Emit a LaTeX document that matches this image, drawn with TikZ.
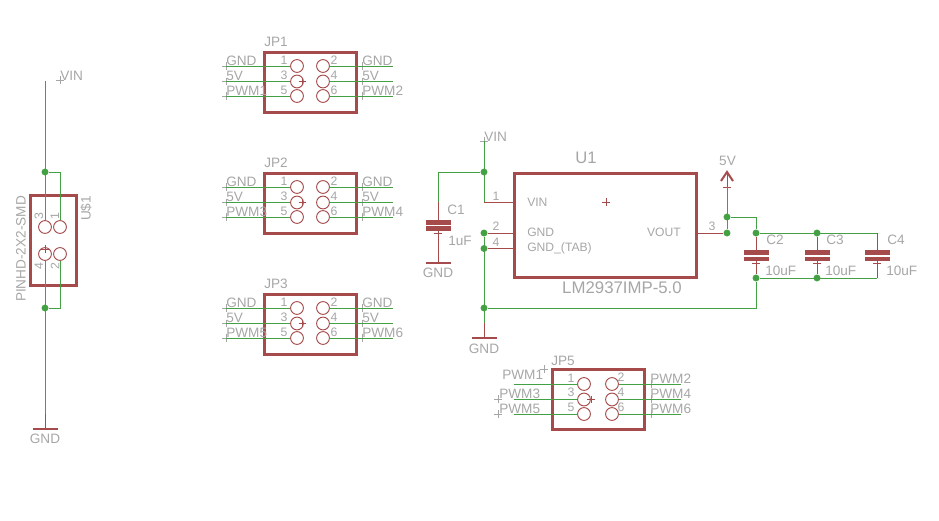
\documentclass[tikz,border=0pt]{standalone}
\usepackage{fontspec}
\usepackage{xcolor}
\usetikzlibrary{
    shapes,
    shapes.misc
}
\setmainfont{Liberation Sans}
\definecolor{netgreen}{HTML}{43A143}
\definecolor{partred}{HTML}{A54B4B}
\definecolor{txtgray}{HTML}{A6A6A6}
\tikzset{
    lbl/.style={text=txtgray, inner sep=0pt, anchor=west, font=\fontsize{10.2}{11}\selectfont},
    pinno/.style={lbl, anchor=center, font=\fontsize{9.2}{10}\selectfont},
    pinname/.style={lbl, font=\fontsize{9.1}{10}\selectfont},
    wire/.style={draw=netgreen, line width=0.7pt},
    stem/.style={draw=partred, line width=0.7pt},
    partbox/.style={draw=partred, line width=2.25pt, inner sep=0pt},
    pad/.style={draw=partred, circle, line width=0.7pt, inner sep=0pt, minimum size=9.6pt},
    junction/.style={fill=netgreen, circle, inner sep=0pt, minimum size=5.2pt},
    plate/.style={fill=partred, inner sep=0pt, minimum width=18.75pt, minimum height=3.4pt},
    gndbar/.style={fill=partred, inner sep=0pt, minimum width=18.75pt, minimum height=1.5pt},
    graycross/.style={draw=txtgray, cross out, rotate=45, line width=0.55pt, inner sep=0pt, minimum size=3.2pt},
    redcross/.style={draw=partred, cross out, rotate=45, line width=0.65pt, inner sep=0pt, minimum size=3.4pt}
}

\begin{document}
\begin{tikzpicture}[x=0.75pt, y=-0.75pt]
    \useasboundingbox (0,0) rectangle (939,521);

    % header U$1
    \node[partbox, minimum width=34.5pt, minimum height=68.2pt] (us1) at (53,240.5) {};
    \node[pad] (us1p3) at (45,227) {};
    \node[pad] (us1p1) at (60,227) {};
    \node[pad] (us1p4) at (45,254) {};
    \node[pad] (us1p2) at (60,254) {};
    \node[redcross] (us1o) at (45,249) {};
    \node[pinno, rotate=90] (us1n3) at (39,216) {3};
    \node[pinno, rotate=90] (us1n1) at (55,216) {1};
    \node[pinno, rotate=90] (us1n4) at (39,266) {4};
    \node[pinno, rotate=90] (us1n2) at (55,266) {2};
    \node[lbl, anchor=center, rotate=90] (us1val) at (21,249) {PINHD-2X2-SMD};
    \node[lbl, anchor=center, rotate=90] (us1name) at (86,208.5) {U\$1};

    \node[graycross] (vin1o) at (60,80) {};
    \node[lbl] (vin1) at (60,76) {VIN};
    \coordinate (vin1w) at (45,81);
    \node[junction] (us1top) at (45,172) {};
    \node[junction] (us1bot) at (45,308) {};
    \node[gndbar] (gnd1) at (45,429) {};
    \coordinate (gnd1w) at (45,414);
    \node[lbl, anchor=center] (gnd1t) at (45,439) {GND};

    \draw[wire] (vin1w)--(us1p3);
    \draw[wire] (us1top)-|(us1p1);
    \draw[wire] (us1p4)--(gnd1w);
    \draw[wire] (us1bot)-|(us1p2);
    \draw[stem] (gnd1w)--(gnd1);

    % header JP1
    \node[partbox, minimum width=69pt, minimum height=45pt] (jp1) at (310,82) {};
    \node[lbl] (jp1name) at (264,42) {JP1};
    \node[pad] (jp1p1) at (297,66) {};
    \node[pad] (jp1p3) at (297,81.5) {};
    \node[pad] (jp1p5) at (297,96) {};
    \node[pad] (jp1p2) at (323,66) {};
    \node[pad] (jp1p4) at (323,81.5) {};
    \node[pad] (jp1p6) at (323,96) {};
    \node[redcross] (jp1o) at (302.5,81.5) {};
    \node[pinno] (jp1n1) at (284,60) {1};
    \node[pinno] (jp1n3) at (284,75) {3};
    \node[pinno] (jp1n5) at (284,90) {5};
    \node[pinno] (jp1n2) at (334,60) {2};
    \node[pinno] (jp1n4) at (334,75) {4};
    \node[pinno] (jp1n6) at (334,90) {6};
    \node[graycross] (jp1a) at (226,66) {};
    \node[graycross] (jp1b) at (226,81.5) {};
    \node[graycross] (jp1c) at (226,96) {};
    \node[graycross] (jp1m2) at (362,66) {};
    \node[graycross] (jp1m4) at (362,81.5) {};
    \node[graycross] (jp1m6) at (362,96) {};
    \coordinate (jp1d) at (393,66);
    \coordinate (jp1e) at (393,81.5);
    \coordinate (jp1f) at (393,96);
    \node[lbl] at (226,61) {GND};
    \node[lbl] at (226,75.5) {5V};
    \node[lbl] at (226,90.5) {PWM1};
    \node[lbl] at (362,61) {GND};
    \node[lbl] at (362,75.5) {5V};
    \node[lbl] at (362,90.5) {PWM2};
    \draw[wire] (jp1a.center)--(jp1p1);
    \draw[wire] (jp1b.center)--(jp1p3);
    \draw[wire] (jp1c.center)--(jp1p5);
    \draw[wire] (jp1p2)--(jp1d);
    \draw[wire] (jp1p4)--(jp1e);
    \draw[wire] (jp1p6)--(jp1f);

    % header JP2
    \node[partbox, minimum width=69pt, minimum height=45pt] (jp2) at (310,203) {};
    \node[lbl] (jp2name) at (264,163) {JP2};
    \node[pad] (jp2p1) at (297,187) {};
    \node[pad] (jp2p3) at (297,202.5) {};
    \node[pad] (jp2p5) at (297,217) {};
    \node[pad] (jp2p2) at (323,187) {};
    \node[pad] (jp2p4) at (323,202.5) {};
    \node[pad] (jp2p6) at (323,217) {};
    \node[redcross] (jp2o) at (302.5,202.5) {};
    \node[pinno] (jp2n1) at (284,181) {1};
    \node[pinno] (jp2n3) at (284,196) {3};
    \node[pinno] (jp2n5) at (284,211) {5};
    \node[pinno] (jp2n2) at (334,181) {2};
    \node[pinno] (jp2n4) at (334,196) {4};
    \node[pinno] (jp2n6) at (334,211) {6};
    \node[graycross] (jp2a) at (226,187) {};
    \node[graycross] (jp2b) at (226,202.5) {};
    \node[graycross] (jp2c) at (226,217) {};
    \node[graycross] (jp2m2) at (362,187) {};
    \node[graycross] (jp2m4) at (362,202.5) {};
    \node[graycross] (jp2m6) at (362,217) {};
    \coordinate (jp2d) at (393,187);
    \coordinate (jp2e) at (393,202.5);
    \coordinate (jp2f) at (393,217);
    \node[lbl] at (226,182) {GND};
    \node[lbl] at (226,196.5) {5V};
    \node[lbl] at (226,211.5) {PWM3};
    \node[lbl] at (362,182) {GND};
    \node[lbl] at (362,196.5) {5V};
    \node[lbl] at (362,211.5) {PWM4};
    \draw[wire] (jp2a.center)--(jp2p1);
    \draw[wire] (jp2b.center)--(jp2p3);
    \draw[wire] (jp2c.center)--(jp2p5);
    \draw[wire] (jp2p2)--(jp2d);
    \draw[wire] (jp2p4)--(jp2e);
    \draw[wire] (jp2p6)--(jp2f);

    % header JP3
    \node[partbox, minimum width=69pt, minimum height=45pt] (jp3) at (310,324) {};
    \node[lbl] (jp3name) at (264,284) {JP3};
    \node[pad] (jp3p1) at (297,308) {};
    \node[pad] (jp3p3) at (297,323.5) {};
    \node[pad] (jp3p5) at (297,338) {};
    \node[pad] (jp3p2) at (323,308) {};
    \node[pad] (jp3p4) at (323,323.5) {};
    \node[pad] (jp3p6) at (323,338) {};
    \node[redcross] (jp3o) at (302.5,323.5) {};
    \node[pinno] (jp3n1) at (284,302) {1};
    \node[pinno] (jp3n3) at (284,317) {3};
    \node[pinno] (jp3n5) at (284,332) {5};
    \node[pinno] (jp3n2) at (334,302) {2};
    \node[pinno] (jp3n4) at (334,317) {4};
    \node[pinno] (jp3n6) at (334,332) {6};
    \node[graycross] (jp3a) at (226,308) {};
    \node[graycross] (jp3b) at (226,323.5) {};
    \node[graycross] (jp3c) at (226,338) {};
    \node[graycross] (jp3m2) at (362,308) {};
    \node[graycross] (jp3m4) at (362,323.5) {};
    \node[graycross] (jp3m6) at (362,338) {};
    \coordinate (jp3d) at (393,308);
    \coordinate (jp3e) at (393,323.5);
    \coordinate (jp3f) at (393,338);
    \node[lbl] at (226,303) {GND};
    \node[lbl] at (226,317.5) {5V};
    \node[lbl] at (226,332.5) {PWM5};
    \node[lbl] at (362,303) {GND};
    \node[lbl] at (362,317.5) {5V};
    \node[lbl] at (362,332.5) {PWM6};
    \draw[wire] (jp3a.center)--(jp3p1);
    \draw[wire] (jp3b.center)--(jp3p3);
    \draw[wire] (jp3c.center)--(jp3p5);
    \draw[wire] (jp3p2)--(jp3d);
    \draw[wire] (jp3p4)--(jp3e);
    \draw[wire] (jp3p6)--(jp3f);

    % header JP5
    \node[partbox, minimum width=69pt, minimum height=45pt] (jp5) at (598,399) {};
    \node[lbl] (jp5name) at (551,361) {JP5};
    \node[pad] (jp5p1) at (584,384) {};
    \node[pad] (jp5p3) at (584,399.5) {};
    \node[pad] (jp5p5) at (584,414) {};
    \node[pad] (jp5p2) at (612,384) {};
    \node[pad] (jp5p4) at (612,399.5) {};
    \node[pad] (jp5p6) at (612,414) {};
    \node[redcross] (jp5o) at (591,399.5) {};
    \node[pinno] (jp5n1) at (571,378) {1};
    \node[pinno] (jp5n3) at (571,392.5) {3};
    \node[pinno] (jp5n5) at (571,407) {5};
    \node[pinno] (jp5n2) at (621,377) {2};
    \node[pinno] (jp5n4) at (621,392.5) {4};
    \node[pinno] (jp5n6) at (621,407) {6};
    \coordinate (jp5a) at (514,384);
    \coordinate (jp5b) at (514,399.5);
    \coordinate (jp5c) at (514,414);
    \coordinate (jp5d) at (681,384);
    \coordinate (jp5e) at (681,399.5);
    \coordinate (jp5f) at (681,414);
    \node[graycross] (jp5m1) at (544,369) {};
    \node[graycross] (jp5m3) at (498,399) {};
    \node[graycross] (jp5m5) at (498,414) {};
    \node[graycross] (jp5m2) at (651,384) {};
    \node[graycross] (jp5m4) at (651,399) {};
    \node[graycross] (jp5m6) at (651,414) {};
    \node[lbl] at (502,375) {PWM1};
    \node[lbl] at (499,394) {PWM3};
    \node[lbl] at (499,409) {PWM5};
    \node[lbl] at (650,379) {PWM2};
    \node[lbl] at (650,394) {PWM4};
    \node[lbl] at (650,409) {PWM6};
    \draw[wire] (jp5a)--(jp5p1);
    \draw[wire] (jp5b)--(jp5p3);
    \draw[wire] (jp5c)--(jp5p5);
    \draw[wire] (jp5p2)--(jp5d);
    \draw[wire] (jp5p4)--(jp5e);
    \draw[wire] (jp5p6)--(jp5f);

    % regulator U1
    \node[partbox, minimum width=137pt, minimum height=78.5pt] (u1) at (605.5,225.5) {};
    \node[redcross] (u1o) at (606,202) {};
    \node[lbl, anchor=center, font=\fontsize{12.5}{13}\selectfont] (u1name) at (586,158) {U1};
    \node[lbl, anchor=center, font=\fontsize{12.6}{13}\selectfont] (u1val) at (622,288) {LM2937IMP-5.0};
    \node[pinname] (u1vin) at (527,202) {VIN};
    \node[pinname] (u1gnd) at (527,232.5) {GND};
    \node[pinname] (u1tab) at (527,248) {GND\_(TAB)};
    \node[pinname, anchor=east] (u1vout) at (681,232.5) {VOUT};
    \node[pinno] (u1n1) at (496,196) {1};
    \node[pinno] (u1n2) at (496,226) {2};
    \node[pinno] (u1n4) at (496,242) {4};
    \node[pinno] (u1n3) at (712,226) {3};

    \node[graycross] (vin2o) at (484,141) {};
    \node[lbl] (vin2) at (484,137) {VIN};
    \coordinate (vin2w) at (484,141);
    \coordinate (u1pin1) at (484,202);
    \coordinate (u1e1) at (514,202);
    \coordinate (u1e2) at (514,233);
    \coordinate (u1e4) at (514,248.5);
    \coordinate (u1e3) at (697,233);
    \node[junction] (jvin) at (484,172) {};
    \node[junction] (jg2) at (484,233) {};
    \node[junction] (jg4) at (484,248.5) {};
    \node[junction] (jgbus) at (484,308) {};
    \node[gndbar] (gnd2) at (484,338) {};
    \coordinate (gnd2w) at (484,323);
    \node[lbl, anchor=center] (gnd2t) at (484,349) {GND};

    \draw[wire] (vin2w)--(u1pin1);
    \draw[wire] (jg2)--(gnd2w);
    \draw[stem] (u1pin1)--(u1e1);
    \draw[stem] (jg2)--(u1e2);
    \draw[stem] (jg4)--(u1e4);
    \draw[stem] (gnd2w)--(gnd2);

    % capacitor C1
    \coordinate (c1w) at (438,202);
    \node[plate] (c1a) at (438,222.3) {};
    \node[plate] (c1b) at (438,228.7) {};
    \node[redcross] (c1o) at (438,233) {};
    \node[gndbar] (gnd3) at (438,263) {};
    \node[lbl] (c1name) at (447,210) {C1};
    \node[lbl] (c1val) at (448,241) {1uF};
    \node[lbl, anchor=center] (gnd3t) at (438,273) {GND};
    \draw[wire] (jvin)-|(c1w);
    \draw[stem] (c1w)--(c1a);
    \draw[stem] (c1b)--(gnd3);

    % output side
    \coordinate (vcctip) at (727,172);
    \node[redcross] (vccbar) at (727,187) {};
    \node[lbl, anchor=center] (vcct) at (727.5,161) {5V};
    \node[junction] (jv1) at (727,217) {};
    \node[junction] (jv2) at (727,233) {};
    \node[junction] (jc2t) at (756,233) {};
    \node[junction] (jc3t) at (817,233) {};
    \coordinate (c4t) at (877,233);
    \node[junction] (jc2b) at (756,278) {};
    \node[junction] (jc3b) at (817,278) {};
    \coordinate (c4b) at (877,278);
    \draw[stem, line width=1.5pt] (vcctip)+(-6,9)--(vcctip)--+(6,9);
    \draw[stem] (vcctip)--(vccbar.center);
    \draw[wire] (vccbar.center)--(jv2);
    \draw[wire] (jv1)-|(jc2t);
    \draw[wire] (jc2t)--(c4t);
    \draw[wire] (jc2b)--(c4b);
    \draw[wire] (jgbus)-|(jc2b);
    \draw[stem] (u1e3)--(jv2);

    % capacitors C2 C3 C4
    \node[plate] (c2a) at (756,252.5) {};
    \node[plate] (c2b) at (756,258.8) {};
    \node[redcross] (c2o) at (756,263) {};
    \node[plate] (c3a) at (817,252.5) {};
    \node[plate] (c3b) at (817,258.8) {};
    \node[redcross] (c3o) at (817,263) {};
    \node[plate] (c4a) at (877,252.5) {};
    \node[plate] (c4c) at (877,258.8) {};
    \node[redcross] (c4o) at (877,263) {};
    \node[lbl] (c2name) at (766,240) {C2};
    \node[lbl] (c2val) at (765,271) {10uF};
    \node[lbl] (c3name) at (826,240) {C3};
    \node[lbl] (c3val) at (825,271) {10uF};
    \node[lbl] (c4name) at (887,240) {C4};
    \node[lbl] (c4val) at (886,271) {10uF};
    \draw[stem] (jc2t)--(c2a);
    \draw[stem] (c2b)--(jc2b);
    \draw[stem] (jc3t)--(c3a);
    \draw[stem] (c3b)--(jc3b);
    \draw[stem] (c4t)--(c4a);
    \draw[stem] (c4c)--(c4b);
\end{tikzpicture}
\end{document}
